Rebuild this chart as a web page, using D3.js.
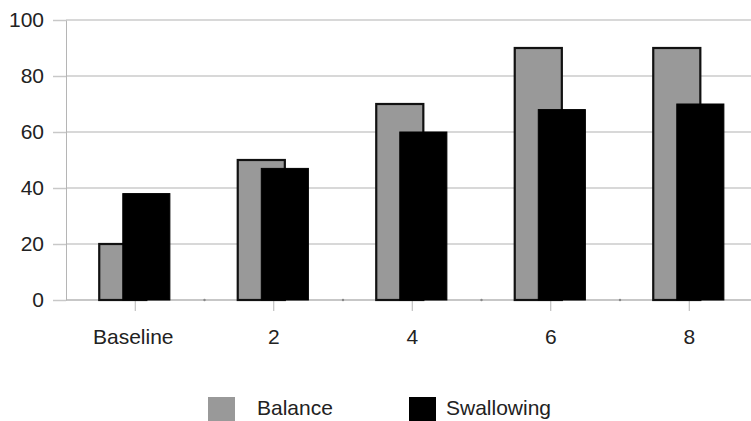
<!DOCTYPE html>
<html>
<head>
<meta charset="utf-8">
<script src="https://cdn.jsdelivr.net/npm/d3@7"></script>
<style>
  html, body { margin: 0; padding: 0; background: #fff; }
  svg { display: block; font-family: "Liberation Sans", Arial, sans-serif; }
</style>
</head>
<body>
<div id="chart"></div>
<script>
  var categories = ['Baseline', '2', '4', '6', '8'];
  var balance = [20, 50, 70, 90, 90];
  var swallowing = [38, 47, 60, 68, 70];
  var yTicks = [0, 20, 40, 60, 80, 100];
  var seriesNames = ['Balance', 'Swallowing'];

  (function () {
    'use strict';

    var width = 751;
    var height = 421;
    var plotLeft = 66;
    var plotTop = 20;
    var plotBottom = 300;
    var fontSize = '21px';

    var svg = d3.select('#chart').append('svg')
      .attr('width', width)
      .attr('height', height);

    var x = d3.scaleBand()
      .domain(categories)
      .range([plotLeft, plotLeft + 138.5 * categories.length])
      .padding(0);
    var y = d3.scaleLinear().domain([0, 100]).range([plotBottom, plotTop]);
    var bw = x.bandwidth();

    // gridlines
    svg.append('g').selectAll('line')
      .data(yTicks.filter(function (d) { return d > 0; }))
      .join('line')
      .attr('x1', plotLeft).attr('x2', width)
      .attr('y1', function (d) { return y(d); })
      .attr('y2', function (d) { return y(d); })
      .attr('stroke', '#cbcbcb')
      .attr('stroke-width', 1.5);

    // y axis with outside ticks
    var yAxis = d3.axisLeft(y).tickValues(yTicks).tickSize(13).tickPadding(9).tickSizeOuter(0);
    var gy = svg.append('g').attr('transform', 'translate(' + plotLeft + ',0)').call(yAxis);
    gy.select('.domain').attr('stroke', '#b5b5b5');
    gy.selectAll('.tick line').attr('stroke', '#c8c8c8').attr('stroke-width', 1.5);
    gy.selectAll('.tick text').attr('font-size', fontSize).attr('fill', '#222')
      .attr('font-family', '"Liberation Sans", Arial, sans-serif');

    // x axis baseline
    svg.append('line')
      .attr('x1', plotLeft).attr('x2', width)
      .attr('y1', y(0)).attr('y2', y(0))
      .attr('stroke', '#b5b5b5').attr('stroke-width', 1.5);

    // category ticks
    var xAxis = d3.axisBottom(x).tickSize(11).tickPadding(18);
    var gx = svg.append('g').attr('transform', 'translate(0,' + y(0) + ')').call(xAxis);
    gx.select('.domain').remove();
    gx.selectAll('.tick line').attr('stroke', '#b5b5b5');
    gx.selectAll('.tick text').attr('font-size', fontSize).attr('fill', '#222')
      .attr('font-family', '"Liberation Sans", Arial, sans-serif')
      .attr('dx', function (d) { return d === 'Baseline' ? -2 : 0; });

    // small dots between categories
    svg.append('g').selectAll('circle')
      .data(categories.slice(1))
      .join('circle')
      .attr('cx', function (d) { return x(d); })
      .attr('cy', y(0))
      .attr('r', 1.2)
      .attr('fill', '#888');

    // bars
    svg.append('g').selectAll('rect')
      .data(categories)
      .join('rect')
      .attr('x', function (d) { return x(d) + bw * 0.24; })
      .attr('y', function (d, i) { return y(balance[i]); })
      .attr('width', bw * 0.34)
      .attr('height', function (d, i) { return y(0) - y(balance[i]); })
      .attr('fill', '#999999')
      .attr('stroke', '#111')
      .attr('stroke-width', 2.2);

    svg.append('g').selectAll('rect')
      .data(categories)
      .join('rect')
      .attr('x', function (d) { return x(d) + bw * 0.41; })
      .attr('y', function (d, i) { return y(swallowing[i]); })
      .attr('width', bw * 0.34)
      .attr('height', function (d, i) { return y(0) - y(swallowing[i]); })
      .attr('fill', '#000')
      .attr('stroke', '#000')
      .attr('stroke-width', 1);

    // legend
    var legendX = [208, 409];
    var legendColors = ['#999999', '#000'];
    var lg = svg.append('g').selectAll('g')
      .data(seriesNames)
      .join('g')
      .attr('transform', function (d, i) { return 'translate(' + legendX[i] + ',397)'; });
    lg.append('rect')
      .attr('width', 27).attr('height', 27)
      .attr('fill', function (d, i) { return legendColors[i]; });
    lg.append('text')
      .attr('x', function (d, i) { return i === 0 ? 49 : 37; })
      .attr('y', 18)
      .attr('font-size', fontSize)
      .attr('fill', '#222')
      .text(function (d) { return d; });
  })();
</script>
</body>
</html>
